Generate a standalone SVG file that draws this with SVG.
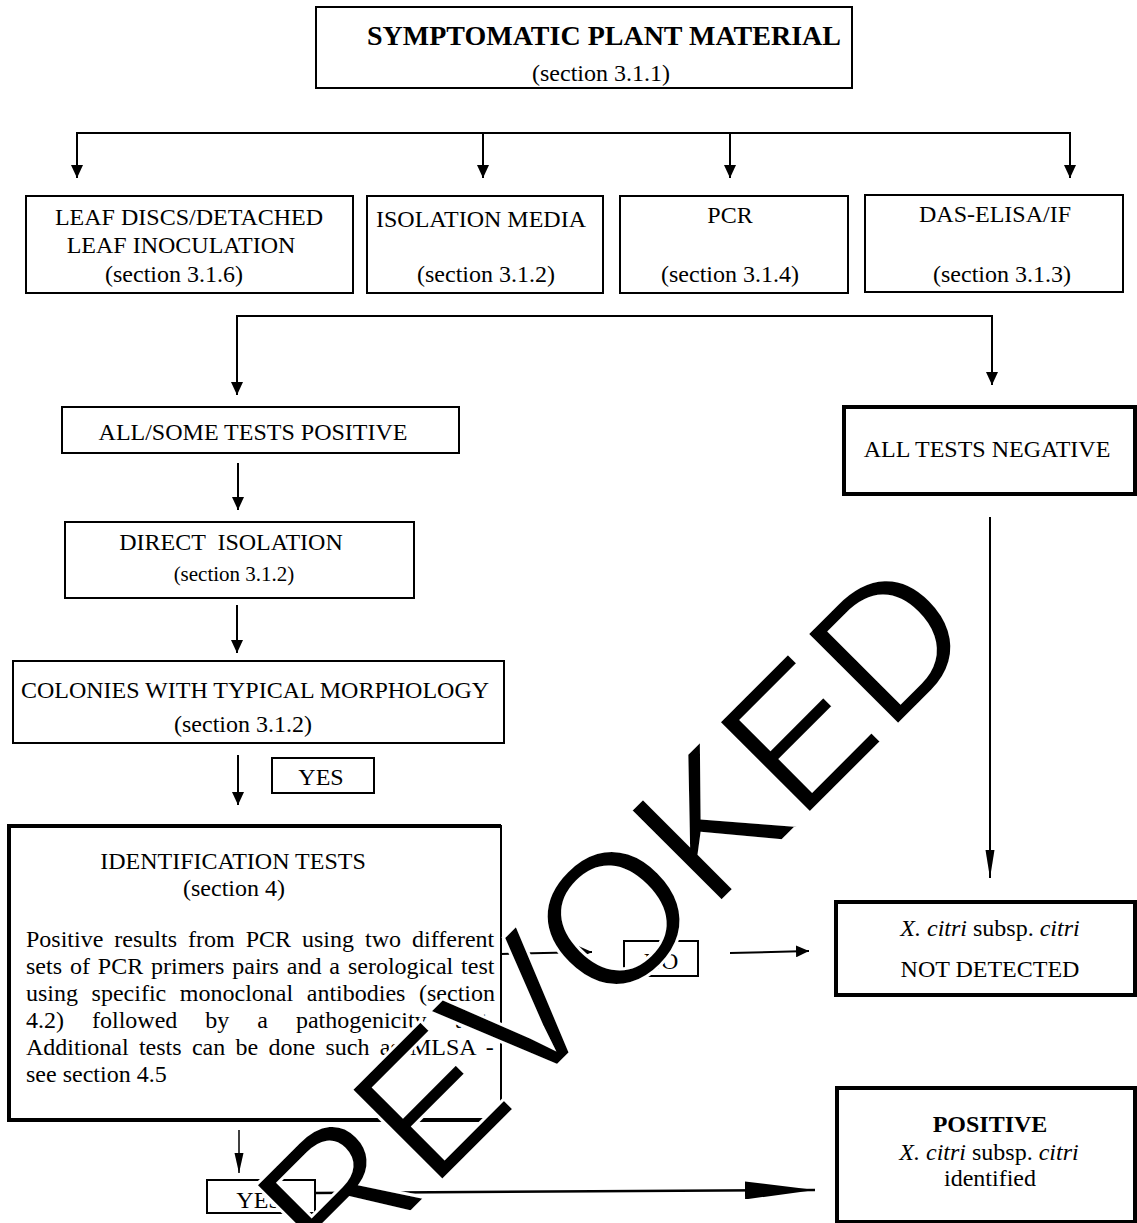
<svg xmlns="http://www.w3.org/2000/svg" width="1137" height="1223" viewBox="0 0 1137 1223">
<style>
.box{fill:#fff;stroke:#000;stroke-width:2}
.thick{stroke-width:4}
.t{font-family:"Liberation Serif","Times New Roman",serif;font-size:24px;fill:#000}
.c{text-anchor:middle}
.b{font-weight:bold}
.i{font-style:italic}
.small{font-size:21px}
.conn line,.conn path{stroke:#000;stroke-width:2;fill:none}
.wm{font-family:"Liberation Sans",Arial,sans-serif;font-size:187px;fill:#000;stroke:#fff;stroke-width:3}
</style>
<defs>
<marker id="ah" markerUnits="userSpaceOnUse" markerWidth="13" markerHeight="12" refX="13" refY="6" orient="auto"><path d="M0,0 L13,6 L0,12 z" fill="#000"/></marker>
<marker id="ahn" markerUnits="userSpaceOnUse" markerWidth="20" markerHeight="10" refX="20" refY="5" orient="auto"><path d="M0,0.5 L20,5 L0,9.5 z" fill="#000"/></marker>
<marker id="ahl" markerUnits="userSpaceOnUse" markerWidth="28" markerHeight="10" refX="28" refY="5" orient="auto"><path d="M0,0.5 L28,5 L0,9.5 z" fill="#000"/></marker>
<marker id="ahb" markerUnits="userSpaceOnUse" markerWidth="70" markerHeight="18" refX="70" refY="9" orient="auto"><path d="M0,0 L70,9 L0,18 z" fill="#000"/></marker>
</defs>
<rect x="0" y="0" width="1137" height="1223" fill="#fff"/>

<g id="connectors" class="conn">
<path d="M77,178 V133 H1070 V178" marker-end="url(#ah)"/>
<line x1="77" y1="133" x2="77" y2="178" marker-end="url(#ah)"/>
<line x1="483" y1="133" x2="483" y2="178" marker-end="url(#ah)"/>
<line x1="730" y1="133" x2="730" y2="178" marker-end="url(#ah)"/>
<path d="M237,395 V316 H992 V385" marker-end="url(#ah)"/>
<line x1="237" y1="316" x2="237" y2="395" marker-end="url(#ah)"/>
<line x1="238" y1="463" x2="238" y2="510" marker-end="url(#ah)"/>
<line x1="237" y1="605" x2="237" y2="653" marker-end="url(#ah)"/>
<line x1="238" y1="755" x2="238" y2="805" marker-end="url(#ah)"/>
<line x1="990" y1="517" x2="990" y2="878" marker-end="url(#ahl)"/>
<line x1="501" y1="954" x2="592" y2="952" marker-end="url(#ah)"/>
<line x1="730" y1="953" x2="809" y2="951" marker-end="url(#ah)"/>
<line x1="239" y1="1130" x2="239" y2="1173" style="stroke-width:1.5" marker-end="url(#ahn)"/>
<line x1="315" y1="1193" x2="815" y2="1190" style="stroke-width:2.5" marker-end="url(#ahb)"/>
</g>

<g id="symptomatic">
<rect class="box" x="316" y="7" width="536" height="81"/>
<text class="t c b" x="604" y="45" style="font-size:28px">SYMPTOMATIC PLANT MATERIAL</text>
<text class="t c" x="601" y="81">(section 3.1.1)</text>
</g>

<g id="leaf">
<rect class="box" x="26" y="196" width="327" height="97"/>
<text class="t c" x="189" y="225">LEAF DISCS/DETACHED</text>
<text class="t c" x="181" y="253">LEAF INOCULATION</text>
<text class="t c" x="174" y="282">(section 3.1.6)</text>
</g>

<g id="isolation-media">
<rect class="box" x="367" y="196" width="236" height="97"/>
<text class="t c" x="481" y="227">ISOLATION MEDIA</text>
<text class="t c" x="486" y="282">(section 3.1.2)</text>
</g>

<g id="pcr">
<rect class="box" x="620" y="196" width="228" height="97"/>
<text class="t c" x="730" y="223">PCR</text>
<text class="t c" x="730" y="282">(section 3.1.4)</text>
</g>

<g id="das-elisa">
<rect class="box" x="865" y="195" width="258" height="97"/>
<text class="t c" x="995" y="222">DAS-ELISA/IF</text>
<text class="t c" x="1002" y="282">(section 3.1.3)</text>
</g>

<g id="all-some-positive">
<rect class="box" x="62" y="407" width="397" height="46"/>
<text class="t c" x="253" y="440">ALL/SOME TESTS POSITIVE</text>
</g>

<g id="all-negative">
<rect class="box thick" x="844" y="407" width="291" height="87"/>
<text class="t c" x="987" y="457">ALL TESTS NEGATIVE</text>
</g>

<g id="direct-isolation">
<rect class="box" x="65" y="522" width="349" height="76"/>
<text class="t c" x="231" y="550" xml:space="preserve">DIRECT  ISOLATION</text>
<text class="t c small" x="234" y="581">(section 3.1.2)</text>
</g>

<g id="colonies">
<rect class="box" x="13" y="661" width="491" height="82"/>
<text class="t c" x="255" y="698">COLONIES WITH TYPICAL MORPHOLOGY</text>
<text class="t c" x="243" y="732">(section 3.1.2)</text>
</g>

<g id="yes-1">
<rect class="box" x="272" y="758" width="102" height="35"/>
<text class="t c" x="321" y="785">YES</text>
</g>

<g id="identification">
<rect class="box" x="9" y="826" width="492" height="294"/>
<path d="M501,826 H9 V1120 H501" fill="none" stroke="#000" stroke-width="4"/>
<text class="t c" x="233" y="869">IDENTIFICATION TESTS</text>
<text class="t c" x="234" y="896">(section 4)</text>
<text class="t" x="26" y="947" style="word-spacing:5px">Positive results from PCR using two different</text>
<text class="t" x="26" y="974" style="word-spacing:1.9px">sets of PCR primers pairs and a serological test</text>
<text class="t" x="26" y="1001" style="word-spacing:7.6px">using specific monoclonal antibodies (section</text>
<text class="t" x="26" y="1028" style="word-spacing:22px">4.2) followed by a pathogenicity test.</text>
<text class="t" x="26" y="1055" style="word-spacing:4.3px">Additional tests can be done such as MLSA -</text>
<text class="t" x="26" y="1082">see section 4.5</text>
</g>

<g id="no">
<rect class="box" x="624" y="941" width="74" height="35"/>
<text class="t c" x="661" y="969">NO</text>
</g>

<g id="not-detected">
<rect class="box thick" x="836" y="902" width="299" height="93"/>
<text class="t c" x="990" y="936"><tspan class="i">X. citri</tspan> subsp. <tspan class="i">citri</tspan></text>
<text class="t c" x="990" y="977">NOT DETECTED</text>
</g>

<g id="yes-2">
<rect class="box" x="207" y="1180" width="108" height="33"/>
<text class="t c" x="259" y="1208">YES</text>
</g>

<g id="positive">
<rect class="box thick" x="837" y="1088" width="298" height="134"/>
<text class="t c b" x="990" y="1132">POSITIVE</text>
<text class="t c" x="989" y="1160"><tspan class="i">X. citri</tspan> subsp. <tspan class="i">citri</tspan></text>
<text class="t c" x="990" y="1186">identified</text>
</g>

<g id="watermark">
<text class="wm" transform="translate(336,1287) rotate(-45)">REVOKED</text>
</g>
</svg>
